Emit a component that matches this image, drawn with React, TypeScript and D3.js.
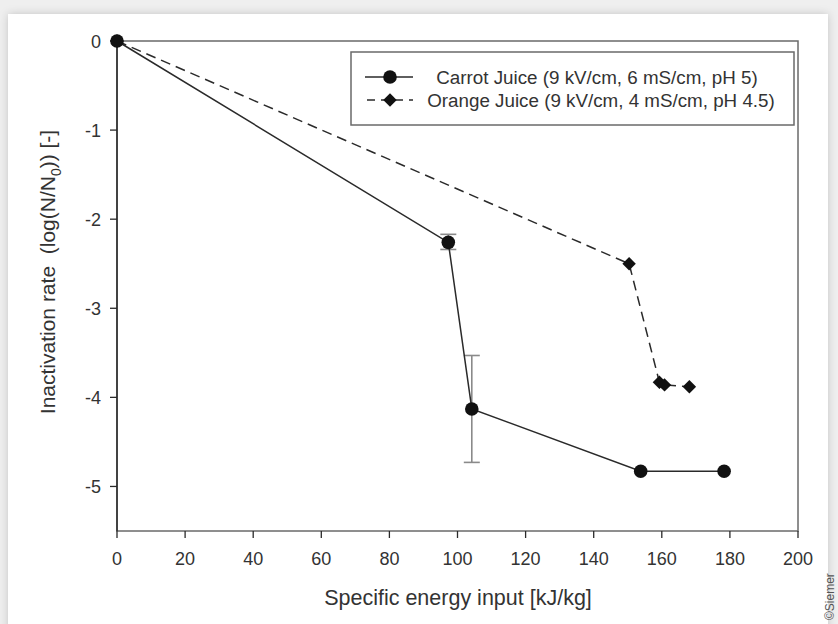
import * as d3 from "d3";

// Carrot juice (9 kV/cm, 6 mS/cm, pH 5)
const carrotEnergy = [0, 97.3, 104.2, 153.8, 178.3];
const carrotRate = [0, -2.26, -4.13, -4.83, -4.83];
const carrotErrLow = [null, -2.34, -4.73, null, null];
const carrotErrHigh = [null, -2.17, -3.53, null, null];

// Orange juice (9 kV/cm, 4 mS/cm, pH 4.5)
const orangeEnergy = [0, 150.4, 159.3, 160.8, 168.1];
const orangeRate = [0, -2.5, -3.83, -3.86, -3.88];

const xTicks = [0, 20, 40, 60, 80, 100, 120, 140, 160, 180, 200];
const yTicks = [0, -1, -2, -3, -4, -5];

const legendLabels = [
  "Carrot Juice (9 kV/cm, 6 mS/cm, pH 5)",
  "Orange Juice (9 kV/cm, 4 mS/cm, pH 4.5)",
];

const W = 838;
const H = 624;
const font = "'Liberation Sans', Arial, sans-serif";

export default function App() {
  const x = d3.scaleLinear().domain([0, 200]).range([117, 798]);
  const y = d3.scaleLinear().domain([-5.5, 0]).range([531, 41]);

  const carrot = carrotEnergy.map((e, i) => [e, carrotRate[i]] as [number, number]);
  const orange = orangeEnergy.map((e, i) => [e, orangeRate[i]] as [number, number]);
  const line = d3
    .line<[number, number]>()
    .x((d) => x(d[0]))
    .y((d) => y(d[1]));

  const diamond = d3.symbol().type(d3.symbolDiamond2).size(115)();
  const lineColor = "#2a2a2a";
  const frameColor = "#6a6a6a";
  const textColor = "#333";

  return (
    <svg
      width={W}
      height={H}
      style={{ position: "absolute", left: 0, top: 0, fontFamily: font }}
    >
      <defs>
        <filter id="shadow" x="-5%" y="-5%" width="110%" height="110%">
          <feDropShadow dx="0" dy="0" stdDeviation="4" floodColor="#000" floodOpacity="0.18" />
        </filter>
      </defs>
      <rect width={W} height={H} fill="#efefef" />
      <rect x={8} y={14} width={820} height={H + 20} fill="#fff" filter="url(#shadow)" />

      {/* frame */}
      <rect
        x={x(0)}
        y={y(0)}
        width={x(200) - x(0)}
        height={y(-5.5) - y(0)}
        fill="none"
        stroke={frameColor}
        strokeWidth={1.5}
      />
      <line x1={x(0)} x2={x(0)} y1={y(0)} y2={y(-5.5)} stroke={lineColor} strokeWidth={1.5} />

      {/* x axis */}
      {xTicks.map((t) => (
        <g key={"x" + t}>
          <line x1={x(t)} x2={x(t)} y1={y(-5.5)} y2={y(-5.5) + 7} stroke={lineColor} strokeWidth={1.3} />
          <text x={x(t)} y={565} textAnchor="middle" fontSize={18} fill={textColor}>
            {t}
          </text>
        </g>
      ))}
      <text x={458} y={605} textAnchor="middle" fontSize={21.5} fill={textColor}>
        Specific energy input [kJ/kg]
      </text>

      {/* y axis */}
      {yTicks.map((t) => (
        <g key={"y" + t}>
          <line x1={x(0) - 7} x2={x(0)} y1={y(t)} y2={y(t)} stroke={lineColor} strokeWidth={1.3} />
          <text x={101} y={y(t) + 6.5} textAnchor="end" fontSize={18} fill={textColor}>
            {t}
          </text>
        </g>
      ))}
      <text
        transform={`translate(55,272) rotate(-90)`}
        textAnchor="middle"
        fontSize={21}
        fill={textColor}
        style={{ whiteSpace: "pre" }}
      >
        {"Inactivation rate  (log(N/N"}
        <tspan dy={6} fontSize={14}>0</tspan>
        <tspan dy={-6}>)) [-]</tspan>
      </text>

      {/* error bars */}
      {carrotEnergy.map((e, i) =>
        carrotErrLow[i] == null ? null : (
          <g key={"err" + i} stroke="#8a8a8a" strokeWidth={1.6}>
            <line x1={x(e)} x2={x(e)} y1={y(carrotErrLow[i] as number)} y2={y(carrotErrHigh[i] as number)} />
            <line x1={x(e) - 8} x2={x(e) + 8} y1={y(carrotErrLow[i] as number)} y2={y(carrotErrLow[i] as number)} />
            <line x1={x(e) - 8} x2={x(e) + 8} y1={y(carrotErrHigh[i] as number)} y2={y(carrotErrHigh[i] as number)} />
          </g>
        )
      )}

      {/* series */}
      <path d={line(orange) ?? ""} fill="none" stroke={lineColor} strokeWidth={1.5} strokeDasharray="10,6" />
      <path d={line(carrot) ?? ""} fill="none" stroke={lineColor} strokeWidth={1.5} />
      {orange.map((d, i) => (
        <path key={"o" + i} d={diamond ?? ""} transform={`translate(${x(d[0])},${y(d[1])})`} fill="#111" />
      ))}
      {carrot.map((d, i) => (
        <circle key={"c" + i} cx={x(d[0])} cy={y(d[1])} r={6.8} fill="#111" />
      ))}

      {/* legend */}
      <rect x={351} y={52} width={443} height={73} fill="#fff" stroke={frameColor} strokeWidth={1.5} />
      <line x1={365} x2={413} y1={77} y2={77} stroke={lineColor} strokeWidth={1.5} />
      <circle cx={390} cy={77} r={6.8} fill="#111" />
      <line x1={365} x2={413} y1={100} y2={100} stroke={lineColor} strokeWidth={1.5} strokeDasharray="8,6" strokeDashoffset={-2} />
      <path d={diamond ?? ""} transform="translate(390,100)" fill="#111" />
      <text x={597} y={84} textAnchor="middle" fontSize={18.8} fill={textColor}>
        {legendLabels[0]}
      </text>
      <text x={601} y={107} textAnchor="middle" fontSize={18.8} fill={textColor}>
        {legendLabels[1]}
      </text>

      {/* watermark */}
      <text transform="translate(834,620) rotate(-90)" fontSize={12} fill="#555">
        ©Siemer
      </text>
    </svg>
  );
}
